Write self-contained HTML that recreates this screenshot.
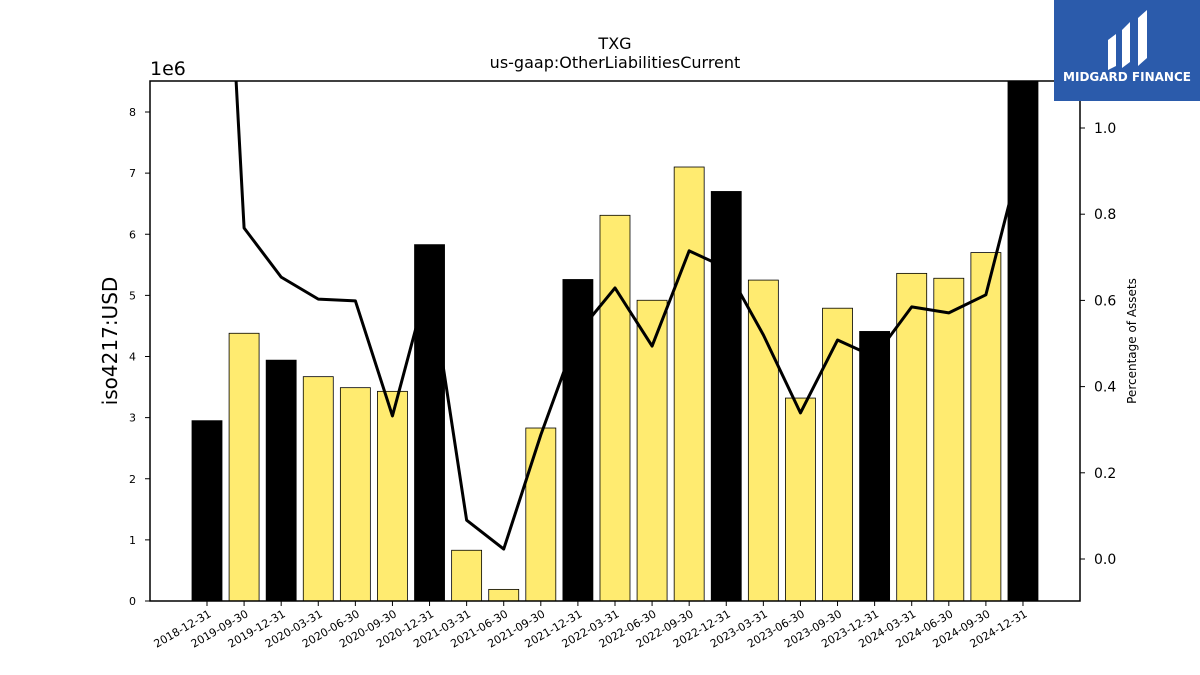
<!DOCTYPE html>
<html><head><meta charset="utf-8"><style>body{margin:0;background:#fff}svg{display:block;font-family:"DejaVu Sans","Liberation Sans",sans-serif}</style></head>
<body>
<svg id="chart" width="1200" height="675" xmlns="http://www.w3.org/2000/svg">
<rect width="1200" height="675" fill="#fff"/>
<text x="615" y="49" text-anchor="middle" font-size="16">TXG</text>
<text x="615" y="68" text-anchor="middle" font-size="16">us-gaap:OtherLiabilitiesCurrent</text>
<text x="150" y="75" font-size="19">1e6</text>
<text transform="translate(117,341) rotate(-90)" text-anchor="middle" font-size="20">iso4217:USD</text>
<text transform="translate(1136,341) rotate(-90)" text-anchor="middle" font-size="12">Percentage of Assets</text>
<g id="bars"></g>
<g id="axes"></g>
<g>
<rect x="1054" y="0" width="146" height="101" fill="#2b5bab"/>
<path d="M1108 40 L1116 34 L1116 66 L1108 70 Z M1122 30 L1130 22 L1130 62 L1122 68 Z M1138 18 L1147 10 L1147 58 L1138 66 Z" fill="#fff"/>
<text x="1127" y="81" text-anchor="middle" font-size="12" font-weight="bold" fill="#fff">MIDGARD FINANCE</text>
</g>
</svg>
<script>
const categories=["2018-12-31","2019-09-30","2019-12-31","2020-03-31","2020-06-30","2020-09-30","2020-12-31","2021-03-31","2021-06-30","2021-09-30","2021-12-31","2022-03-31","2022-06-30","2022-09-30","2022-12-31","2023-03-31","2023-06-30","2023-09-30","2023-12-31","2024-03-31","2024-06-30","2024-09-30","2024-12-31"];
const values=[2.95,4.38,3.94,3.67,3.49,3.43,5.83,0.83,0.19,2.83,5.26,6.31,4.92,7.10,6.70,5.25,3.32,4.79,4.41,5.36,5.28,5.70,8.6];
const pctAssets=[2.35,0.768,0.654,0.603,0.599,0.332,0.654,0.090,0.023,0.288,0.524,0.629,0.494,0.715,0.675,0.52,0.339,0.508,0.469,0.585,0.571,0.613,0.95];
const leftTicks=[0,1,2,3,4,5,6,7,8];
const rightTicks=[0.0,0.2,0.4,0.6,0.8,1.0];
const NS="http://www.w3.org/2000/svg";
const L=150,R=1080,T=81,B=601;
const yL=v=>601-v*61.125;
const yR=v=>559-v*431;
const xC=i=>207+i*37.09;
function mk(tag,attrs,parent){const e=document.createElementNS(NS,tag);for(const k in attrs)e.setAttribute(k,attrs[k]);parent.appendChild(e);return e;}
const svg=document.getElementById('chart');
const bars=document.getElementById('bars');
const axes=document.getElementById('axes');
const clip=mk('clipPath',{id:'pc'},svg);mk('rect',{x:L,y:T,width:R-L,height:B-T},clip);
bars.setAttribute('clip-path','url(#pc)');
categories.forEach((c,i)=>{
  const black=c.endsWith('12-31');
  const r=mk('rect',{x:xC(i)-15,y:yL(values[i]),width:30,height:B-yL(values[i]),fill:black?'#000':'#ffeb70',stroke:'#000','stroke-width':0.8},bars);
  
  
});
const pts=pctAssets.map((v,i)=>xC(i)+','+yR(v)).join(' ');
const line=mk('polyline',{points:pts,fill:'none',stroke:'#000','stroke-width':3,'stroke-linejoin':'round'},bars);


const frame=mk('rect',{x:L,y:T,width:R-L,height:B-T,fill:'none',stroke:'#000','stroke-width':1.5},axes);


leftTicks.forEach(v=>{
  mk('line',{x1:L-5,x2:L,y1:yL(v),y2:yL(v),stroke:'#000'},axes);
  const t=mk('text',{x:L-14,y:yL(v)+4,'text-anchor':'end','font-size':11},axes);t.textContent=v;
  
  
});
rightTicks.forEach(v=>{
  mk('line',{x1:R,x2:R+5,y1:yR(v),y2:yR(v),stroke:'#000'},axes);
  const t=mk('text',{x:R+14,y:yR(v)+5,'font-size':14},axes);t.textContent=v.toFixed(1);
  
  
});
categories.forEach((c,i)=>{
  mk('line',{x1:xC(i),x2:xC(i),y1:B,y2:B+5,stroke:'#000'},axes);
  const t=mk('text',{'text-anchor':'end','font-size':11,transform:`translate(${xC(i)+5},${B+15}) rotate(-30)`},axes);t.textContent=c;
  
  
});
</script>
</body></html>
